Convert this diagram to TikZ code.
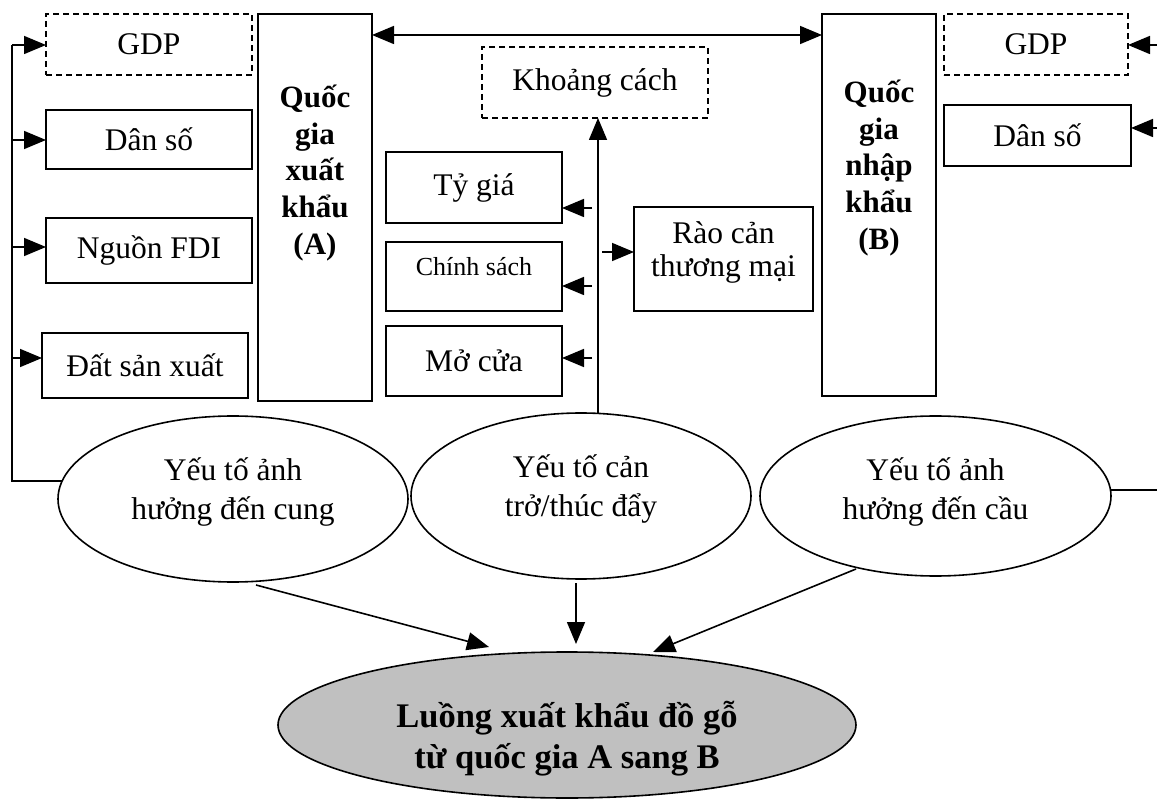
\documentclass[tikz,border=0pt]{standalone}
\usepackage{fontspec}
\setmainfont{Liberation Serif}
\usetikzlibrary{arrows.meta,shapes.geometric}
\definecolor{flowgray}{HTML}{C0C0C0}
\begin{document}
\begin{tikzpicture}[x=1pt,y=-1pt,
  every node/.style={inner sep=0pt, outer sep=0pt},
  txt/.style={align=center, font=\fontsize{31.5}{38.5}\selectfont},
  btxt/.style={align=center, font=\bfseries\fontsize{31}{36.7}\selectfont},
  box/.style={draw, line width=1.8pt, rectangle, txt},
  dbox/.style={box, dash pattern=on 6pt off 4pt},
  ell/.style={draw, line width=1.6pt, ellipse},
  conn/.style={line width=1.6pt},
  arr/.style={conn, -{Triangle[length=22pt,width=18pt]}},
  darr/.style={conn, {Triangle[length=22pt,width=18pt]}-{Triangle[length=22pt,width=18pt]}},
]
\useasboundingbox (0,0) rectangle (1157,799);

% left column (exporter)
\node[dbox, minimum width=206, minimum height=61] (gdpA) at (149,44.5) {GDP};
\node[box, minimum width=206, minimum height=59] (danA) at (149,139.5) {Dân số};
\node[box, minimum width=206, minimum height=65] (fdiA) at (149,250.5) {Nguồn FDI};
\node[box, minimum width=206, minimum height=65] (datA) at (145,365.5) {Đất sản xuất};
\node[box, minimum width=114, minimum height=387] (qA) at (315,207.5) {};
\node[btxt] (qAt) at (315,173) {Quốc\\gia\\xuất\\khẩu\\(A)};

% middle
\node[dbox, minimum width=226, minimum height=71] (kc) at (595,82.5) {Khoảng cách};
\node[box, minimum width=176, minimum height=71] (tg) at (474,187.5) {Tỷ giá};
\node[box, minimum width=176, minimum height=69] (cs) at (474,276.5) {};
\node[align=center, font=\fontsize{26}{30}\selectfont] (cst) at (474,267) {Chính sách};
\node[box, minimum width=176, minimum height=70] (mc) at (474,361) {Mở cửa};
\node[box, minimum width=179, minimum height=104] (rc) at (723.5,259) {};
\node[txt, font=\fontsize{31.5}{33}\selectfont] (rct) at (723.5,252) {Rào cản\\thương mại};

% right column (importer)
\node[box, minimum width=114, minimum height=382] (qB) at (879,205) {};
\node[btxt] (qBt) at (879,168) {Quốc\\gia\\nhập\\khẩu\\(B)};
\node[dbox, minimum width=184, minimum height=61] (gdpB) at (1036,44.5) {GDP};
\node[box, minimum width=187, minimum height=61] (danB) at (1037.5,135.5) {Dân số};

% ellipses
\node[ell, minimum width=350, minimum height=166] (e1) at (233,499) {};
\node[txt] (e1t) at (233,492) {Yếu tố ảnh\\hưởng đến cung};
\node[ell, minimum width=340, minimum height=166] (e2) at (581,496) {};
\node[txt] (e2t) at (581,489) {Yếu tố cản\\trở/thúc đẩy};
\node[ell, minimum width=351, minimum height=160] (e3) at (935.5,496) {};
\node[txt] (e3t) at (935.5,492) {Yếu tố ảnh\\hưởng đến cầu};
\node[ell, fill=flowgray, minimum width=578, minimum height=146] (flow) at (567,725) {};
\node[align=center, font=\bfseries\fontsize{34.5}{41}\selectfont] (flowt) at (567,739) {Luồng xuất khẩu đồ gỗ\\từ quốc gia A sang B};

% left feedback line
\coordinate (lt) at (12,45);
\draw[conn] (e1.174.7) -| (lt);
\coordinate (a1) at (12,45);
\coordinate (a2) at (12,140);
\coordinate (a3) at (12,247);
\coordinate (a4) at (12,358);
\draw[arr] (a1) -- (a1 -| gdpA.west);
\draw[arr] (a2) -- (a2 -| danA.west);
\draw[arr] (a3) -- (a3 -| fdiA.west);
\draw[arr] (a4) -- (a4 -| datA.west);

% right feedback line
\coordinate (r1) at (1157,45);
\coordinate (r2) at (1157,128);
\draw[arr] (r1) -- (r1 -| gdpB.east);
\draw[arr] (r2) -- (r2 -| danB.east);
\draw[conn] (e3.2.6) -- (e3.2.6 -| r1);

% distance double arrow
\coordinate (d) at (0,35);
\draw[darr] (d -| qA.east) -- (d -| qB.west);

% middle vertical
\coordinate (v0) at (598,414);
\draw[arr] (v0) -- (v0 |- kc.south);
\coordinate (s1) at (592,208);
\coordinate (s2) at (592,286);
\coordinate (s3) at (592,358);
\coordinate (s4) at (602,252);
\draw[arr] (s1) -- (s1 -| tg.east);
\draw[arr] (s2) -- (s2 -| cs.east);
\draw[arr] (s3) -- (s3 -| mc.east);
\draw[arr] (s4) -- (s4 -| rc.west);

% arrows to flow
\coordinate (b1s) at (256,585);
\coordinate (b1e) at (489,647);
\coordinate (b2s) at (576,583);
\coordinate (b2e) at (576,644);
\coordinate (b3s) at (856,569);
\coordinate (b3e) at (653,652);
\draw[arr] (b1s) -- (b1e);
\draw[arr] (b2s) -- (b2e);
\draw[arr] (b3s) -- (b3e);
\end{tikzpicture}
\end{document}
